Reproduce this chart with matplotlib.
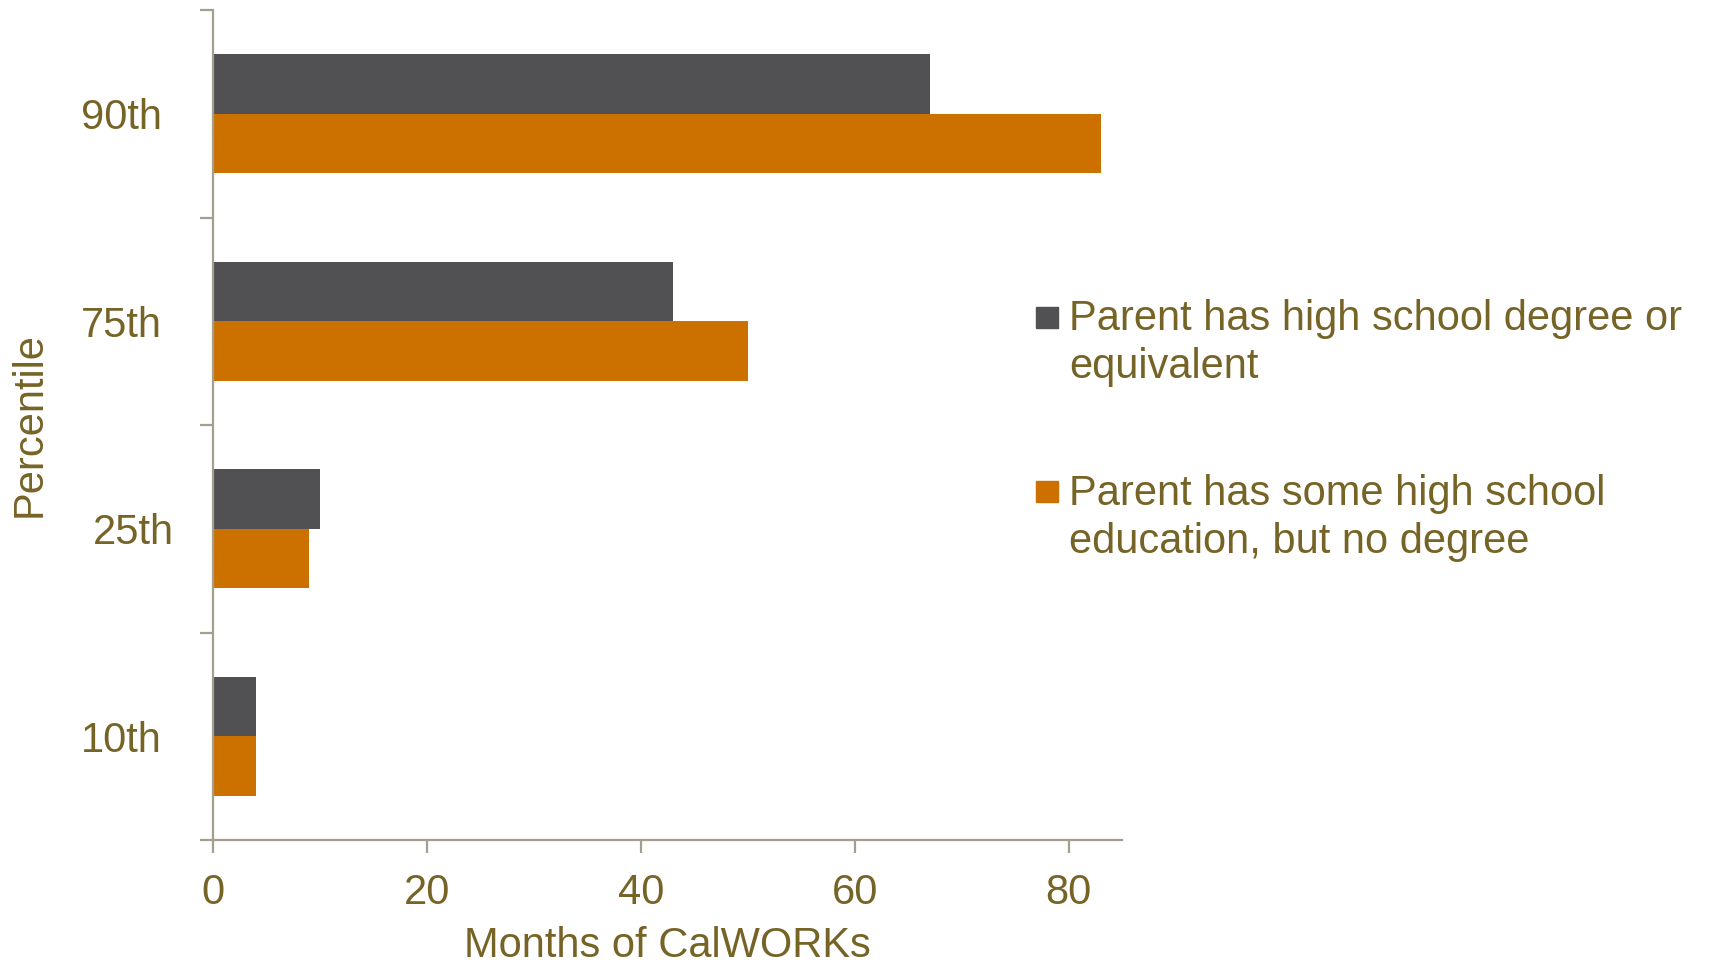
import matplotlib
matplotlib.use("Agg")
import matplotlib.pyplot as plt
import matplotlib.transforms as mtransforms
from matplotlib.patches import Rectangle
import numpy as np

# ---- data ----
categories = ["10th", "25th", "75th", "90th"]
hs_degree = [4, 10, 43, 67]
some_hs = [4, 9, 50, 83]
series_labels = ["Parent has high school degree or\nequivalent",
                 "Parent has some high school\neducation, but no degree"]
xticks = [0, 20, 40, 60, 80]

# ---- style ----
DARK = "#515153"
ORANGE = "#CC7000"
TEXT = "#766427"
SPINE = "#A49E90"
plt.rcParams["font.family"] = ["Liberation Sans", "DejaVu Sans"]

W, H = 1720, 965
fig = plt.figure(figsize=(W / 100, H / 100), dpi=100)
ax = fig.add_axes([213 / W, 1 - 840 / H, (1122 - 213) / W, 830 / H])

y = np.arange(len(categories))
h = 0.286
ax.barh(y + h / 2, hs_degree, height=h, color=DARK, label=series_labels[0])
ax.barh(y - h / 2, some_hs, height=h, color=ORANGE, label=series_labels[1])

ax.set_xlim(0, 85)
ax.set_ylim(-0.5, len(categories) - 0.5)

for s in ["top", "right"]:
    ax.spines[s].set_visible(False)
for s in ["left", "bottom"]:
    ax.spines[s].set_color(SPINE)
    ax.spines[s].set_linewidth(1.6)

ax.set_xticks(xticks)
ax.set_xticklabels([str(t) for t in xticks])
ax.tick_params(axis="x", direction="out", length=9, width=1.6, color=SPINE,
               labelsize=30, labelcolor=TEXT, pad=15)

ax.set_yticks(y)
ax.set_yticklabels(categories)
ax.set_yticks(np.arange(len(categories) + 1) - 0.5, minor=True)
ax.tick_params(axis="y", which="major", length=0, labelsize=30,
               labelcolor=TEXT, pad=37)
ax.tick_params(axis="y", which="minor", direction="out", length=9.5,
               width=1.6, color=SPINE)

# the "25th" label sits slightly further right in the reference
for lab in ax.get_yticklabels():
    if lab.get_text() == "25th":
        lab.set_transform(lab.get_transform() +
                          mtransforms.ScaledTranslation(12 / 100, 0, fig.dpi_scale_trans))

ax.set_xlabel("Months of CalWORKs", fontsize=30, color=TEXT, labelpad=9)
ax.set_ylabel("Percentile", fontsize=30, color=TEXT, labelpad=22)

# ---- legend (drawn manually) ----
entries = [(DARK, series_labels[0], 307, 330), (ORANGE, series_labels[1], 481, 505)]
for col, lab, sq_top, base in entries:
    fig.add_artist(Rectangle((1036 / W, 1 - (sq_top + 21) / H), 22 / W, 21 / H,
                             transform=fig.transFigure, color=col))
    for i, line in enumerate(lab.split("\n")):
        fig.text(1069 / W, 1 - (base + 48 * i) / H, line, ha="left", va="baseline",
                 fontsize=30, color=TEXT)

fig.savefig("out.png", dpi=100)
